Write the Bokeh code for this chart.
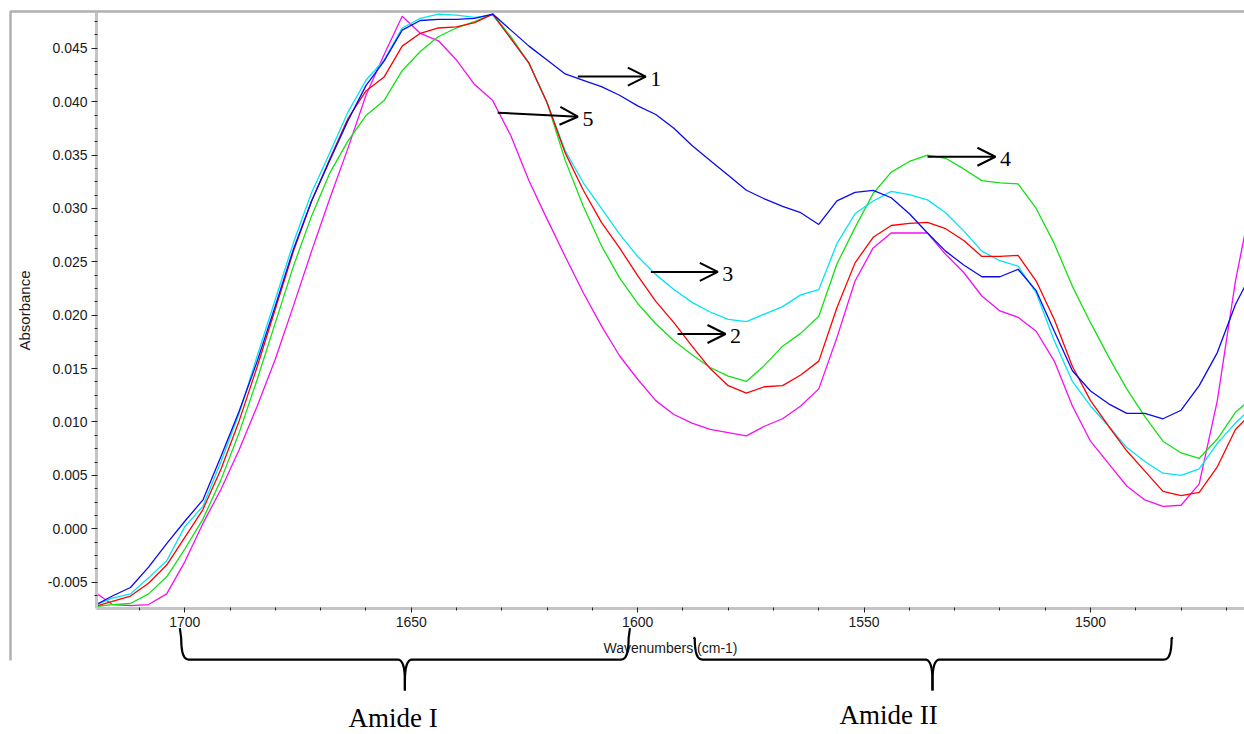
from bokeh.plotting import figure
from bokeh.models import (ColumnDataSource, Range1d, SingleIntervalTicker, GridBox,
                          PrintfTickFormatter, Arrow, OpenHead, Label)
from bokeh.core.properties import value
from bokeh.embed import file_html
from bokeh.resources import INLINE

# ---------------- data ----------------
wavenumbers = list(range(1720, 1463, -4))  # 1720 ... 1464 cm-1

curve_1 = [-0.0072, -0.0063, -0.0055, -0.0036, -0.0014, 0.0007, 0.0027, 0.0068, 0.0110, 0.0157,
           0.0209, 0.0262, 0.0307, 0.0345, 0.0382, 0.0415, 0.0438, 0.0467, 0.0476, 0.0477,
           0.0477, 0.0478, 0.0482, 0.0467, 0.0452, 0.0439, 0.0426, 0.0420, 0.0414, 0.0406,
           0.0396, 0.0388, 0.0375, 0.0359, 0.0345, 0.0331, 0.0317, 0.0309, 0.0302, 0.0296,
           0.0285, 0.0307, 0.0315, 0.0317, 0.0310, 0.0295, 0.0277, 0.0260, 0.0247, 0.0236,
           0.0236, 0.0243, 0.0223, 0.0185, 0.0148, 0.0129, 0.0117, 0.0108, 0.0108, 0.0103,
           0.0111, 0.0134, 0.0165, 0.0210, 0.0243]

curve_2 = [-0.0073, -0.0068, -0.0063, -0.0051, -0.0034, -0.0008, 0.0018, 0.0056, 0.0101, 0.0152,
           0.0206, 0.0260, 0.0307, 0.0346, 0.0384, 0.0410, 0.0423, 0.0452, 0.0464, 0.0469,
           0.0470, 0.0474, 0.0482, 0.0459, 0.0436, 0.0399, 0.0352, 0.0317, 0.0287, 0.0263,
           0.0237, 0.0213, 0.0193, 0.0171, 0.0150, 0.0134, 0.0127, 0.0133, 0.0134, 0.0144,
           0.0157, 0.0207, 0.0249, 0.0273, 0.0284, 0.0286, 0.0287, 0.0281, 0.0270, 0.0255,
           0.0255, 0.0256, 0.0232, 0.0196, 0.0152, 0.0120, 0.0096, 0.0073, 0.0054, 0.0035,
           0.0031, 0.0034, 0.0058, 0.0093, 0.0110]

curve_3 = [-0.0072, -0.0065, -0.0061, -0.0046, -0.0030, 0.0002, 0.0021, 0.0063, 0.0108, 0.0162,
           0.0215, 0.0268, 0.0315, 0.0352, 0.0390, 0.0420, 0.0439, 0.0469, 0.0478, 0.0482,
           0.0481, 0.0479, 0.0481, 0.0459, 0.0436, 0.0399, 0.0354, 0.0324, 0.0300, 0.0276,
           0.0255, 0.0238, 0.0224, 0.0212, 0.0203, 0.0196, 0.0194, 0.0201, 0.0208, 0.0219,
           0.0224, 0.0267, 0.0295, 0.0307, 0.0316, 0.0313, 0.0308, 0.0296, 0.0279, 0.0260,
           0.0251, 0.0246, 0.0221, 0.0176, 0.0138, 0.0115, 0.0096, 0.0076, 0.0063, 0.0052,
           0.0050, 0.0056, 0.0080, 0.0099, 0.0115]

curve_4 = [-0.0073, -0.0071, -0.0070, -0.0061, -0.0045, -0.0019, 0.0009, 0.0046, 0.0090, 0.0140,
           0.0193, 0.0246, 0.0293, 0.0333, 0.0363, 0.0387, 0.0401, 0.0429, 0.0447, 0.0461,
           0.0469, 0.0475, 0.0482, 0.0461, 0.0436, 0.0399, 0.0345, 0.0302, 0.0265, 0.0235,
           0.0211, 0.0192, 0.0176, 0.0163, 0.0151, 0.0143, 0.0138, 0.0153, 0.0171, 0.0183,
           0.0199, 0.0248, 0.0282, 0.0314, 0.0334, 0.0344, 0.0350, 0.0347, 0.0337, 0.0326,
           0.0324, 0.0323, 0.0300, 0.0267, 0.0227, 0.0193, 0.0161, 0.0131, 0.0105, 0.0082,
           0.0071, 0.0066, 0.0084, 0.0109, 0.0124]

curve_5 = [-0.0059, -0.0071, -0.0072, -0.0071, -0.0061, -0.0031, 0.0005, 0.0037, 0.0074, 0.0115,
           0.0159, 0.0209, 0.0260, 0.0309, 0.0356, 0.0406, 0.0444, 0.0480, 0.0464, 0.0457,
           0.0439, 0.0416, 0.0401, 0.0368, 0.0326, 0.0290, 0.0255, 0.0221, 0.0190, 0.0162,
           0.0140, 0.0120, 0.0107, 0.0099, 0.0093, 0.0090, 0.0087, 0.0096, 0.0103, 0.0115,
           0.0131, 0.0179, 0.0232, 0.0263, 0.0277, 0.0277, 0.0277, 0.0257, 0.0240, 0.0218,
           0.0204, 0.0198, 0.0185, 0.0157, 0.0115, 0.0082, 0.0061, 0.0040, 0.0027, 0.0021,
           0.0022, 0.0042, 0.0120, 0.0232, 0.0317]

curve_names = ["1", "2", "3", "4", "5"]
curve_colors = ["#0a0aee", "#ff0000", "#00e4f4", "#14e014", "#f40ef4"]

# arrow annotations: label, start (wavenumber, absorbance), end (wavenumber, absorbance)
arrow_labels = ["1", "5", "3", "2", "4"]
arrow_x_start = [1613.2, 1630.9, 1597.1, 1591.2, 1536.0]
arrow_y_start = [0.04235, 0.03897, 0.02405, 0.01824, 0.03484]
arrow_x_end = [1598.2, 1613.2, 1582.3, 1580.6, 1521.0]
arrow_y_end = [0.04235, 0.03859, 0.02405, 0.01824, 0.03484]

# band braces (wavenumber spans) and their names
band_names = ["Amide I", "Amide II"]
band_left = [1700.8, 1587.4]
band_right = [1602.0, 1482.1]
band_mid = [1651.4, 1534.9]
band_top = [-0.0093, -0.0102]
band_label_x = [1654.0, 1544.6]
band_label_y = [-0.01770, -0.01745]

X_START, X_END = 1719.5, 1466.0
Y_START, Y_END = -0.00747, 0.04835

W, H = 1244, 734
LEFT, TOP, BOTTOM = 96, 12, 126

# ---------------- main figure ----------------
p = figure(width=W, height=H, output_backend="svg", toolbar_location=None,
           x_range=Range1d(X_START, X_END), y_range=Range1d(Y_START, Y_END),
           min_border_left=LEFT, min_border_right=0, min_border_top=TOP, min_border_bottom=BOTTOM,
           background_fill_color="white", border_fill_color="white")
p.frame_align = False
p.outline_line_color = None
p.grid.visible = False

src = ColumnDataSource(dict(wn=wavenumbers, c1=curve_1, c2=curve_2, c3=curve_3,
                            c4=curve_4, c5=curve_5))
for key, color in zip(["c5", "c4", "c3", "c2", "c1"],
                      [curve_colors[4], curve_colors[3], curve_colors[2], curve_colors[1], curve_colors[0]]):
    p.line(x="wn", y=key, source=src, line_color=color, line_width=1.3)

for ax in (p.xaxis[0], p.yaxis[0]):
    ax.axis_line_color = "#c4c4c4"
    ax.axis_line_width = 3
    ax.major_tick_line_color = "#222222"
    ax.minor_tick_line_color = "#222222"
    ax.major_tick_line_width = 1
    ax.minor_tick_line_width = 1
    ax.major_tick_out = 5
    ax.major_tick_in = 0
    ax.minor_tick_out = 2
    ax.minor_tick_in = 1
    ax.major_label_text_font = "Liberation Sans"
    ax.major_label_text_font_size = "14px"
    ax.major_label_text_color = "#1a1a1a"
    ax.axis_label_text_font = "Liberation Sans"
    ax.axis_label_text_font_style = "normal"
    ax.axis_label_text_color = "#1a1a1a"

p.yaxis.ticker = SingleIntervalTicker(interval=0.005, num_minor_ticks=4)
p.yaxis.formatter = PrintfTickFormatter(format="%.3f")
p.yaxis.axis_label = "Absorbance"
p.yaxis.axis_label_text_font_size = "15px"
p.yaxis.major_label_standoff = 4
p.yaxis.axis_label_standoff = 12

p.xaxis.ticker = SingleIntervalTicker(interval=50, num_minor_ticks=5)
p.xaxis.formatter = PrintfTickFormatter(format="%d")
p.xaxis.axis_label = "Wavenumbers (cm-1)"
p.xaxis.axis_label_text_font_size = "14px"
p.xaxis.major_tick_out = 4
p.xaxis.major_label_standoff = 4
p.xaxis.axis_label_standoff = 10

for lab, xs, ys, xe, ye in zip(arrow_labels, arrow_x_start, arrow_y_start, arrow_x_end, arrow_y_end):
    p.add_layout(Arrow(end=OpenHead(size=18, line_width=2, line_color="black"),
                       x_start=xs, y_start=ys, x_end=xe, y_end=ye,
                       line_width=2, line_color="black"))
    p.add_layout(Label(x=xe - 1.0, y=ye - 0.0002, text=lab, text_font="Liberation Serif",
                       text_font_size="22px", text_baseline="middle", text_align="left",
                       text_color="black"))

# ---------------- transparent overlay (same data scale, whole canvas) ----------------
px_per_x = (W - LEFT) / (X_START - X_END)
px_per_y = (H - TOP - BOTTOM) / (Y_END - Y_START)
OV_X0 = X_START + LEFT / px_per_x
OV_Y0 = Y_START - BOTTOM / px_per_y
OV_Y1 = Y_END + TOP / px_per_y

ov = figure(width=W, height=H, output_backend="svg", toolbar_location=None,
            x_range=Range1d(OV_X0, X_END), y_range=Range1d(OV_Y0, OV_Y1),
            min_border=0, x_axis_location=None, y_axis_location=None)
ov.frame_align = False
ov.grid.visible = False
ov.outline_line_color = None
ov.background_fill_alpha = 0
ov.border_fill_alpha = 0

# outer picture frame (grey top and left lines)
fx0 = OV_X0 - 10 / px_per_x
fy_top = OV_Y1 - 11 / px_per_y
fy_bot = OV_Y1 - 660 / px_per_y
ov.line([fx0, fx0, X_END - 5], [fy_bot, fy_top, fy_top], line_color="#b0b0b0", line_width=2.5)


def qbez(p0, c, p1, n=8):
    pts = []
    for i in range(n + 1):
        t = i / n
        x = (1 - t) ** 2 * p0[0] + 2 * (1 - t) * t * c[0] + t ** 2 * p1[0]
        y = (1 - t) ** 2 * p0[1] + 2 * (1 - t) * t * c[1] + t ** 2 * p1[1]
        pts.append((x, y))
    return pts


BAR_Y = -0.01225
TIP_Y = -0.01516
DX = 1.6
DY = 0.0010

for name, xl, xr, xm, yt in zip(band_names, band_left, band_right, band_mid, band_top):
    path = [(xl + 0.3, yt)]
    path += qbez((xl, BAR_Y + 2 * DY), (xl, BAR_Y), (xl - DX, BAR_Y))
    path += qbez((xm + DX, BAR_Y), (xm, BAR_Y), (xm, BAR_Y - 2 * DY))
    path += [(xm, TIP_Y)]
    ov.line([q[0] for q in path], [q[1] for q in path], line_color="black", line_width=2.2,
            line_join="round")
    path2 = [(xm, TIP_Y), (xm, BAR_Y - 2 * DY)]
    path2 += qbez((xm, BAR_Y - 2 * DY), (xm, BAR_Y), (xm - DX, BAR_Y))
    path2 += qbez((xr + DX, BAR_Y), (xr, BAR_Y), (xr, BAR_Y + 2 * DY))
    path2 += [(xr - 0.3, yt)]
    ov.line([q[0] for q in path2], [q[1] for q in path2], line_color="black", line_width=2.2,
            line_join="round")

ov.text(x=band_label_x, y=band_label_y, text=band_names, text_font=value("Liberation Serif"),
        text_font_size="27px", text_align="center", text_baseline="middle", text_color="black")

layout = GridBox(children=[(p, 0, 0), (ov, 0, 0)])
open("out.html", "w").write(file_html(layout, INLINE))
